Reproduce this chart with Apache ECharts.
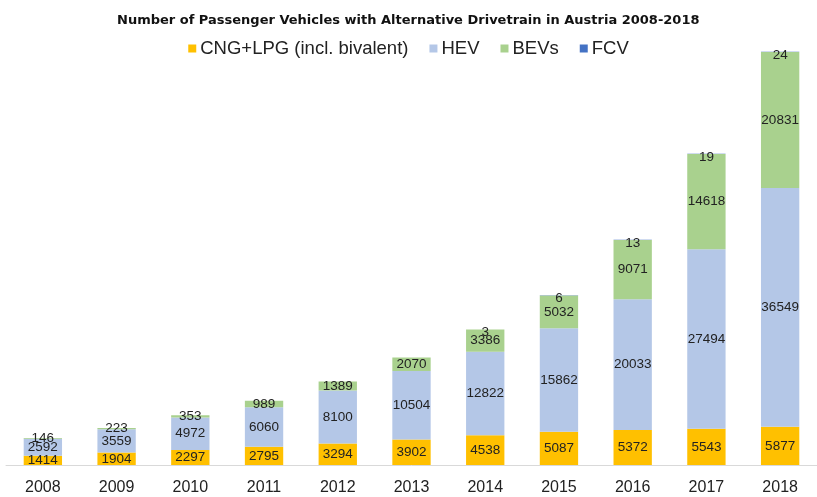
<!DOCTYPE html>
<html>
<head>
<meta charset="utf-8">
<script src="https://cdn.jsdelivr.net/npm/echarts@6/dist/echarts.min.js"></script>
<style>
  html, body { margin: 0; padding: 0; background: #fff; }
  #chart { width: 817px; height: 497px; }
</style>
</head>
<body>
<div id="chart"></div>
<script>
// data
var years = ['2008', '2009', '2010', '2011', '2012', '2013', '2014', '2015', '2016', '2017', '2018'];
var cngLpg = [1414, 1904, 2297, 2795, 3294, 3902, 4538, 5087, 5372, 5543, 5877];
var hev = [2592, 3559, 4972, 6060, 8100, 10504, 12822, 15862, 20033, 27494, 36549];
var bevs = [146, 223, 353, 989, 1389, 2070, 3386, 5032, 9071, 14618, 20831];
var fcv = [0, 0, 0, 0, 0, 0, 3, 6, 13, 19, 24];

var chart = echarts.init(document.getElementById('chart'));

function segLabel(offset) {
  return {
    show: true,
    position: 'inside',
    offset: offset || [0, 0],
    color: '#222',
    fontSize: 13.5,
    fontFamily: 'Liberation Sans',
    formatter: function (p) { return p.value ? p.value : ''; }
  };
}

var option = {
  animation: false,
  title: {
    text: 'Number of Passenger Vehicles with Alternative Drivetrain in Austria 2008-2018',
    left: 112,
    top: 9,
    textStyle: { fontFamily: 'DejaVu Sans', fontWeight: 'bold', fontSize: 13, color: '#111' }
  },
  legend: {
    top: 34,
    left: 'center',
    icon: 'rect',
    itemWidth: 8,
    itemHeight: 8,
    itemGap: 21,
    textStyle: { fontFamily: 'Liberation Sans', fontSize: 18.5, color: '#222', padding: [0, 0, 0, -1] },
    data: ['CNG+LPG (incl. bivalent)', 'HEV', 'BEVs', 'FCV']
  },
  grid: { left: 6, width: 815, top: 8, bottom: 32 },
  xAxis: {
    type: 'category',
    data: years,
    axisTick: { show: false },
    axisLine: { lineStyle: { color: '#d9d9d9', width: 1 } },
    axisLabel: { color: '#222', fontSize: 16, fontFamily: 'Liberation Sans', margin: 15 }
  },
  yAxis: {
    type: 'value',
    min: 0,
    max: 70000,
    show: false,
    splitLine: { show: false }
  },
  series: [
    {
      name: 'CNG+LPG (incl. bivalent)', type: 'bar', stack: 'total', barWidth: '52%',
      itemStyle: { color: '#FFC000' }, label: segLabel(), data: cngLpg
    },
    {
      name: 'HEV', type: 'bar', stack: 'total',
      itemStyle: { color: '#B4C7E7' }, label: segLabel(), data: hev
    },
    {
      name: 'BEVs', type: 'bar', stack: 'total',
      itemStyle: { color: '#A9D18E' }, label: segLabel(), data: bevs
    },
    {
      name: 'FCV', type: 'bar', stack: 'total',
      itemStyle: { color: '#4472C4' }, label: segLabel([0, 3]), data: fcv
    }
  ]
};

chart.setOption(option);
</script>
</body>
</html>
